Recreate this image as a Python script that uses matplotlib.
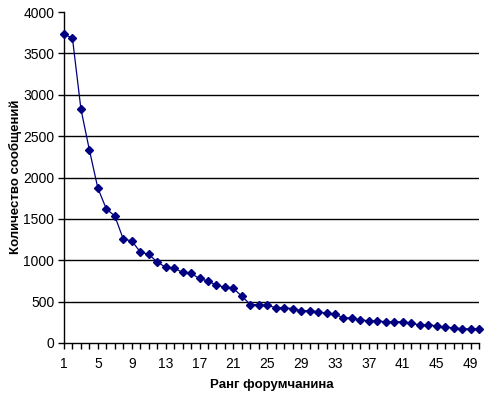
import matplotlib.pyplot as plt
import numpy as np

# rank of forum member and number of messages
ranks = np.arange(1, 51)
messages = [3734, 3681, 2827, 2331, 1870, 1620, 1535, 1255, 1235, 1100,
            1072, 980, 915, 902, 854, 840, 780, 748, 699, 675,
            659, 565, 465, 463, 455, 427, 427, 415, 390, 390,
            378, 358, 346, 305, 301, 280, 268, 268, 256, 256,
            256, 236, 220, 220, 207, 191, 183, 171, 171, 171]
xticks = list(range(1, 50, 4))
yticks = list(range(0, 4001, 500))

plt.rcParams['font.family'] = ['Liberation Sans', 'DejaVu Sans']

fig = plt.figure(figsize=(4.89, 3.99), dpi=100)
ax = fig.add_axes([64 / 489, 56 / 399, 415 / 489, 331 / 399])

for y in yticks[1:-1]:
    ax.axhline(y, color='black', lw=1.0, zorder=1)

ax.plot(ranks, messages, color='#000080', lw=0.9, marker='D', ms=4.5,
        mfc='#000080', mec='#000080', zorder=3, clip_on=False)

ax.set_xlim(1, 50)
ax.set_ylim(0, 4000)
ax.set_xticks(xticks)
ax.set_xticks(ranks, minor=True)
ax.set_yticks(yticks)
ax.tick_params(axis='both', direction='out', length=4, width=1,
               labelsize=10, colors='black')
ax.tick_params(axis='x', which='minor', direction='out', length=4, width=1)
ax.tick_params(axis='x', pad=6)
ax.tick_params(axis='y', pad=3)

for s in ['top', 'right']:
    ax.spines[s].set_visible(False)
for s in ['left', 'bottom']:
    ax.spines[s].set_linewidth(1.0)

# axis titles placed like in the original
fig.text(272 / 489, 1 - 385 / 399, 'Ранг форумчанина', fontsize=9.5,
         fontweight='bold', ha='center', va='center')
fig.text(15 / 489, 1 - 177 / 399, 'Количество сообщений', fontsize=9.5,
         fontweight='bold', ha='center', va='center', rotation=90)

fig.savefig('out.png', dpi=100)
